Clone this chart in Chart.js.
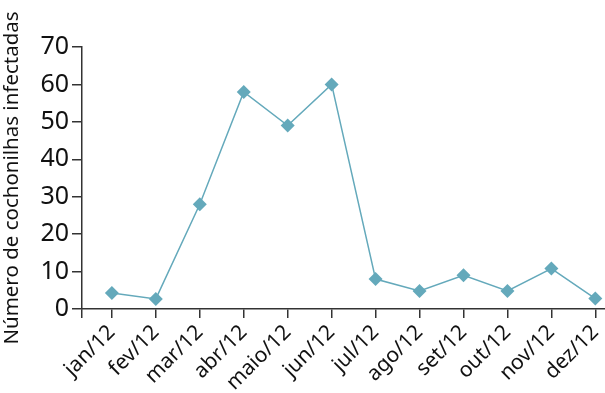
<!DOCTYPE html>
<html>
<head>
<meta charset="utf-8">
<script src="https://cdn.jsdelivr.net/npm/chart.js@4.4.1/dist/chart.umd.min.js"></script>
<style>
  html, body { margin: 0; padding: 0; background: #fff; }
  #wrap { width: 605px; height: 393px; }
</style>
</head>
<body>
<div id="wrap"><canvas id="c"></canvas></div>
<script>
  // ---------- Data ----------
  const months = ["jan/12", "fev/12", "mar/12", "abr/12", "maio/12", "jun/12",
                  "jul/12", "ago/12", "set/12", "out/12", "nov/12", "dez/12"];
  const infected = [4.3, 2.7, 28, 58, 49, 60, 8, 4.8, 9, 4.8, 10.8, 2.8];
  const yTicks = [0, 10, 20, 30, 40, 50, 60, 70];

  const X_MIN = -0.68;
  const X_MAX = 11.22;
  const FONT = "'Noto Sans', sans-serif";
  const AXIS = "#333";
  const TEAL = "#64a9bb";

  const points = infected.map((v, i) => ({ x: i, y: v }));

  new Chart(document.getElementById("c"), {
    type: "line",
    data: {
      datasets: [{
        data: points,
        borderColor: TEAL,
        borderWidth: 1.5,
        backgroundColor: TEAL,
        pointStyle: "rectRot",
        pointRadius: 7,
        pointBorderWidth: 0,
        tension: 0
      }]
    },
    options: {
      responsive: true,
      maintainAspectRatio: false,
      animation: false,
      layout: { autoPadding: false, padding: { top: 47, right: 0, left: 0, bottom: 0 } },
      plugins: { legend: { display: false }, tooltip: { enabled: false } },
      scales: {
        x: {
          type: "linear",
          min: X_MIN,
          max: X_MAX,
          afterBuildTicks: (s) => {
            s.ticks = [{ value: X_MIN }].concat(months.map((_, i) => ({ value: i })));
          },
          afterFit: (s) => { s.height = 84; s.paddingRight = 0; s.paddingLeft = 0; },
          border: { color: AXIS, width: 1.5 },
          grid: { drawOnChartArea: false, color: AXIS, lineWidth: 1.5, tickLength: 9 },
          ticks: {
            autoSkip: false,
            minRotation: 45,
            maxRotation: 45,
            padding: 2,
            color: "#111",
            font: { family: FONT, size: 21 },
            callback: (v) => Number.isInteger(v) ? months[v] : ""
          }
        },
        y: {
          min: 0,
          max: 70,
          afterBuildTicks: (s) => { s.ticks = yTicks.map(v => ({ value: v })); },
          afterFit: (s) => { s.width = 82; s.paddingTop = 0; },
          border: { color: AXIS, width: 1.5 },
          grid: { drawOnChartArea: false, color: AXIS, lineWidth: 1.5, tickLength: 10 },
          title: {
            display: true,
            text: "Número de cochonilhas infectadas",
            color: "#111",
            font: { family: FONT, size: 20.5 },
            padding: 0
          },
          ticks: {
            padding: 3,
            color: "#111",
            font: { family: FONT, size: 25 }
          }
        }
      }
    }
  });
</script>
</body>
</html>
